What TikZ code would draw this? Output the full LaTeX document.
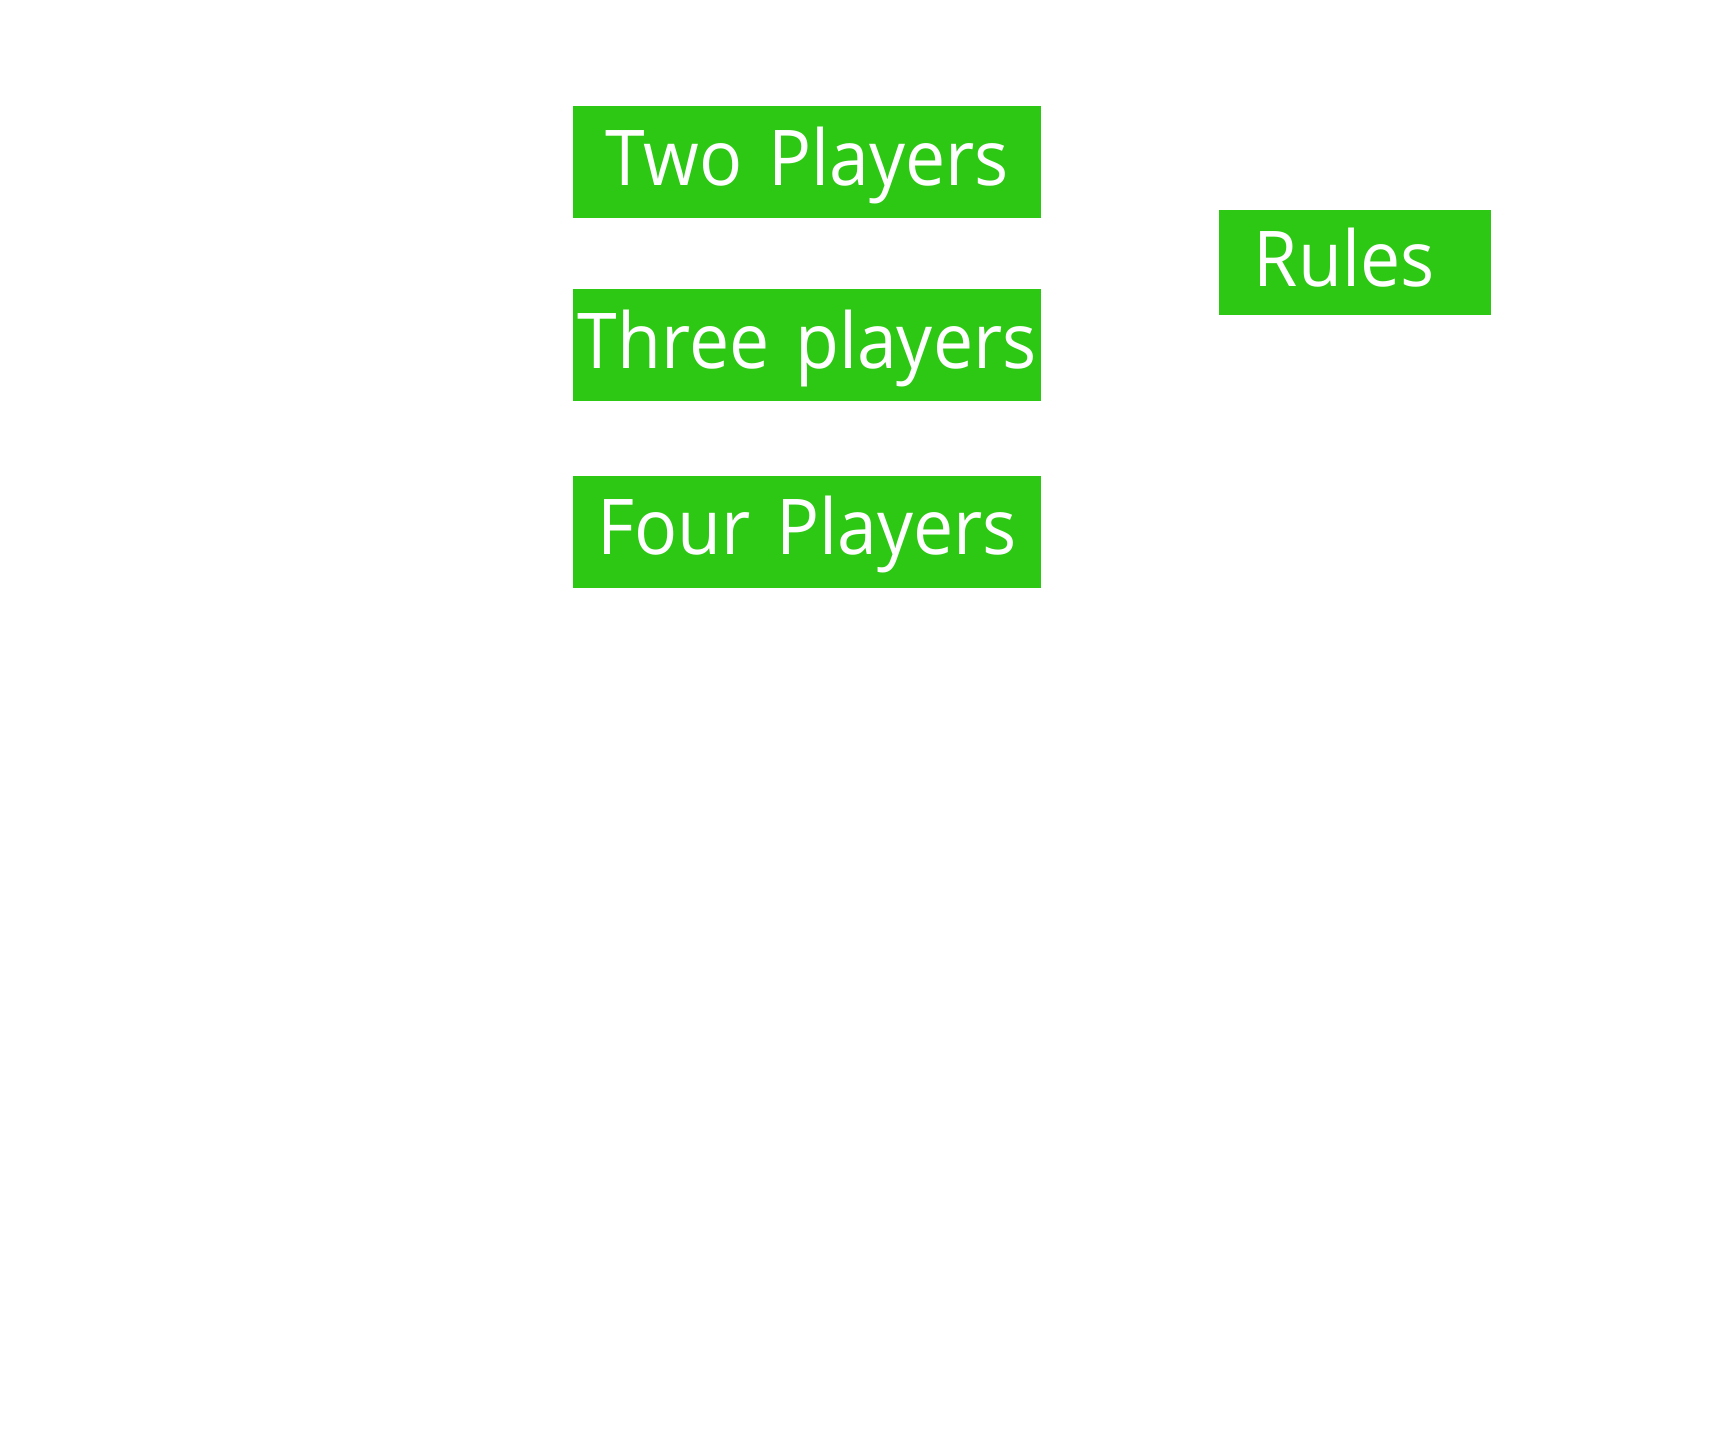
\documentclass[tikz,border=0pt]{standalone}
\usepackage{fontspec}
\setmainfont{Open Sans}[FakeStretch=0.93]
\definecolor{boxgreen}{RGB}{45,200,20}
\begin{document}
\begin{tikzpicture}[x=1pt,y=-1pt,
  gbox/.style={fill=boxgreen,text=white,inner xsep=0pt,inner ysep=0pt,
    font=\fontsize{77}{80}\selectfont,align=center}]
\useasboundingbox (0,0) rectangle (1712,1452);
\node[gbox,text width=468pt,text height=79pt,text depth=33pt,anchor=north west] (two) at (573,106) {Two Players};
\node[gbox,text width=468pt,text height=79pt,text depth=33pt,anchor=north west] (three) at (573,289) {Three players};
\node[gbox,text width=468pt,text height=78pt,text depth=34pt,anchor=north west] (four) at (573,476) {Four Players};
\node[gbox,text width=272pt,text height=76pt,text depth=29pt,anchor=north west] (rules) at (1219,210) {Rules\hspace*{22pt}};
\end{tikzpicture}
\end{document}
